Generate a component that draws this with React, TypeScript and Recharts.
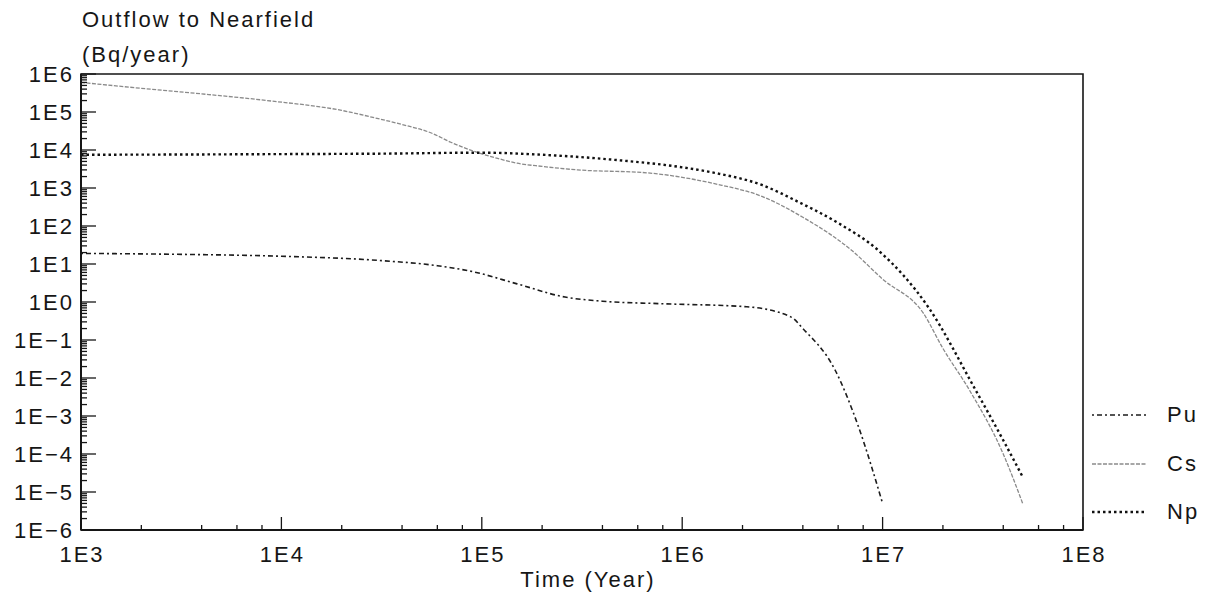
import React from 'react';
import { LineChart, Line, XAxis, YAxis, ReferenceArea } from 'recharts';

// time (years) and outflow (Bq/year)
const csTime = [1e3, 2e3, 4e3, 8.5e3, 2e4, 3e4, 4e4, 5.6e4, 7e4, 9e4, 1.2e5, 1.5e5, 2e5, 3e5, 6.7e5, 1.45e6, 2.5e6, 4e6, 7e6, 1e7, 1.6e7, 2e7, 2.7e7, 4e7, 5e7];
const csFlow = [6e5, 4.2e5, 3e5, 2e5, 1.1e5, 6.8e4, 4.7e4, 2.8e4, 1.6e4, 9.5e3, 6e3, 4.5e3, 3.7e3, 3e3, 2.5e3, 1.3e3, 6e2, 1.7e2, 2.3e1, 4, 5e-1, 6e-2, 5e-3, 1e-4, 5e-6];

const npTime = [1e3, 3e3, 1e4, 3e4, 1e5, 2e5, 4.6e5, 1e6, 1.45e6, 2.5e6, 3.8e6, 6e6, 9.5e6, 1.7e7, 2.9e7, 4e7, 5e7];
const npFlow = [7.5e3, 7.6e3, 7.8e3, 8e3, 8.5e3, 7.5e3, 5.5e3, 3.5e3, 2.5e3, 1.2e3, 4.3e2, 1.2e2, 2.3e1, 7e-1, 5e-3, 2.3e-4, 2.5e-5];

const puTime = [1e3, 3e3, 1e4, 3e4, 6e4, 9e4, 1.5e5, 2.6e5, 4e5, 8e5, 2.1e6, 3.5e6, 4e6, 5.8e6, 7.6e6, 1e7];
const puFlow = [19, 18, 16, 12.5, 9, 6.3, 3, 1.35, 1.05, 0.9, 0.75, 0.4, 0.2, 1.6e-2, 5e-4, 5e-6];

const xDecades = [1e3, 1e4, 1e5, 1e6, 1e7, 1e8];
const xDecadeLabels = ['1E3', '1E4', '1E5', '1E6', '1E7', '1E8'];
const yDecades = [1e-6, 1e-5, 1e-4, 1e-3, 1e-2, 1e-1, 1, 1e1, 1e2, 1e3, 1e4, 1e5, 1e6];
const yDecadeLabels = ['1E\u22126', '1E\u22125', '1E\u22124', '1E\u22123', '1E\u22122', '1E\u22121', '1E0', '1E1', '1E2', '1E3', '1E4', '1E5', '1E6'];
const xMinorSteps = [2, 4, 6, 8];
const yMinorSteps = [2, 3, 4, 5, 6, 7, 8, 9];

const toRows = (t: number[], v: number[]) => t.map((tt, i) => ({ t: tt, v: v[i] }));
const csData = toRows(csTime, csFlow);
const npData = toRows(npTime, npFlow);
const puData = toRows(puTime, puFlow);

const xTicks = [
  ...xDecades,
  ...xDecades.slice(0, -1).flatMap((d) => xMinorSteps.map((m) => d * m)),
];
const yTicks = [
  ...yDecades,
  ...yDecades.slice(0, -1).flatMap((d) => yMinorSteps.map((m) => d * m)),
];

const font = '"Liberation Sans", Arial, Helvetica, sans-serif';
const ink = '#161616';
const textSize = 22;
const spacing = 2;

const isMajor = (list: number[], v: number) => list.findIndex((d) => Math.abs(d - v) / d < 1e-9);

const XTick = (props: any) => {
  const { x, y, payload } = props;
  const idx = isMajor(xDecades, payload.value);
  return (
    <g>
      <line x1={x} x2={x} y1={y} y2={y - (idx >= 0 ? 13 : 5)} stroke={ink} strokeWidth={1.3} />
      {idx >= 0 && (
        <text x={x + 1} y={y + 32} textAnchor="middle" fontSize={textSize} letterSpacing={spacing} fill={ink} fontFamily={font}>
          {xDecadeLabels[idx]}
        </text>
      )}
    </g>
  );
};

const YTick = (props: any) => {
  const { x, y, payload } = props;
  const idx = isMajor(yDecades, payload.value);
  return (
    <g>
      <line x1={x} x2={x + (idx >= 0 ? 15 : 6)} y1={y} y2={y} stroke={ink} strokeWidth={1.3} />
      {idx >= 0 && (
        <text x={x - 7} y={y + 8} textAnchor="end" fontSize={textSize} letterSpacing={spacing} fill={ink} fontFamily={font}>
          {yDecadeLabels[idx]}
        </text>
      )}
    </g>
  );
};

const series = [
  { name: 'Pu', data: puData, stroke: '#1c1c1c', width: 1.6, dash: '2 3 5 3' },
  { name: 'Cs', data: csData, stroke: '#8a8a8a', width: 1.3, dash: '4 1.5' },
  { name: 'Np', data: npData, stroke: '#111111', width: 2.4, dash: '2.5 3' },
];

const textStyle: React.CSSProperties = {
  position: 'absolute',
  fontSize: textSize,
  letterSpacing: spacing,
  lineHeight: '24px',
  whiteSpace: 'nowrap',
};

export default function App() {
  return (
    <div style={{ position: 'relative', width: 1204, height: 600, fontFamily: font, color: ink }}>
      <div style={{ ...textStyle, left: 74, top: 0 }}>Outflow to Nearfield</div>
      <div style={{ ...textStyle, left: 74, top: 35 }}>(Bq/year)</div>
      <LineChart width={1204} height={600} margin={{ top: 66, right: 129, bottom: 0, left: 0 }}>
        <XAxis
          dataKey="t"
          type="number"
          scale="log"
          domain={[1e3, 1e8]}
          ticks={xTicks}
          interval={0}
          allowDataOverflow
          height={78}
          tickSize={0}
          tickMargin={0}
          tickLine={false}
          tick={<XTick />}
          axisLine={{ stroke: ink, strokeWidth: 2 }}
        />
        <YAxis
          type="number"
          scale="log"
          domain={[1e-6, 1e6]}
          ticks={yTicks}
          interval={0}
          allowDataOverflow
          width={73}
          tickSize={0}
          tickMargin={0}
          tickLine={false}
          tick={<YTick />}
          axisLine={{ stroke: ink, strokeWidth: 2 }}
        />
        <ReferenceArea x1={1e3} x2={1e8} y1={1e-6} y2={1e6} fill="none" stroke={ink} strokeWidth={1.6} />
        {series.map((s) => (
          <Line
            key={s.name}
            data={s.data}
            dataKey="v"
            name={s.name}
            type="monotone"
            stroke={s.stroke}
            strokeWidth={s.width}
            strokeDasharray={s.dash}
            dot={false}
            isAnimationActive={false}
          />
        ))}
      </LineChart>
      <div style={{ ...textStyle, left: 580, top: 560, transform: 'translateX(-50%)' }}>Time (Year)</div>
      {series.map((s, i) => (
        <div
          key={s.name}
          style={{ position: 'absolute', left: 1084, top: 407 + i * 48.5 - 12, height: 24, display: 'flex', alignItems: 'center' }}
        >
          <svg width={54} height={24}>
            <line x1={0} x2={54} y1={12} y2={12} stroke={s.stroke} strokeWidth={s.width} strokeDasharray={s.dash} />
          </svg>
          <span style={{ marginLeft: 21, fontSize: textSize, letterSpacing: spacing, lineHeight: '24px' }}>{s.name}</span>
        </div>
      ))}
    </div>
  );
}
